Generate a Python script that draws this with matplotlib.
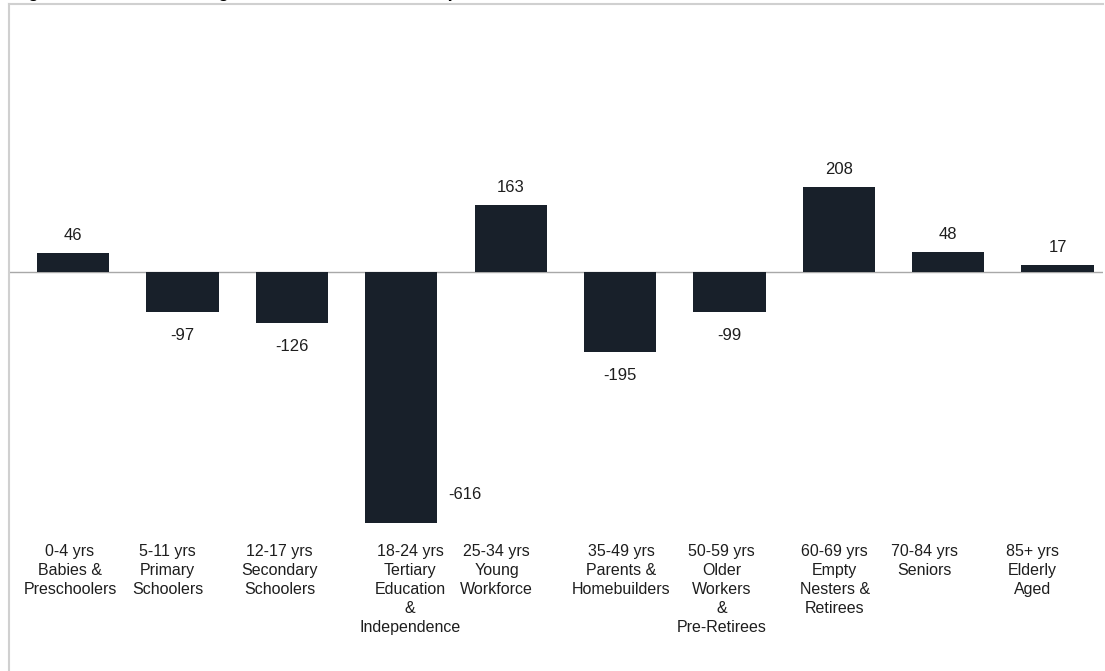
import numpy as np
import matplotlib.pyplot as plt
import matplotlib.transforms as mtransforms
from matplotlib.lines import Line2D

plt.rcParams['font.family'] = ['Liberation Sans', 'DejaVu Sans']

TITLE = "Figure 5: Forecast Change 2016-2026 Service Groups"

age_bands = ["0-4 yrs", "5-11 yrs", "12-17 yrs", "18-24 yrs", "25-34 yrs",
             "35-49 yrs", "50-59 yrs", "60-69 yrs", "70-84 yrs", "85+ yrs"]
group_names = ["Babies &\nPreschoolers", "Primary\nSchoolers", "Secondary\nSchoolers",
               "Tertiary\nEducation\n&\nIndependence", "Young\nWorkforce",
               "Parents &\nHomebuilders", "Older\nWorkers\n&\nPre-Retirees",
               "Empty\nNesters &\nRetirees", "Seniors", "Elderly\nAged"]
change = [46, -97, -126, -616, 163, -195, -99, 208, 48, 17]

BAR_COLOR = "#18202a"
TEXT_COLOR = "#1e1e1e"
W, H = 1105, 671
# category label nudges in pixels (labels sit a bit off-centre in the original)
label_nudge = [-3, -15, -12, 9, -14, 1, -8, -4, -24, -25]

fig = plt.figure(figsize=(W / 100, H / 100), dpi=100)
ax = fig.add_axes([10 / W, (H - 537.2) / H, 1093 / W, 493.7 / H])

x = np.arange(len(change))
bars = ax.bar(x, change, width=0.66, color=BAR_COLOR, zorder=2)
ax.axhline(0, color="#a8a8a8", lw=1.0, zorder=1)

ax.set_xlim(-0.576, 9.415)
ax.set_ylim(-650, 560)
for s in ax.spines.values():
    s.set_visible(False)
ax.set_yticks([])

labels = [f"{a}\n{g}" for a, g in zip(age_bands, group_names)]
ax.set_xticks(x, labels)
ax.tick_params(axis="x", length=0, pad=5, labelsize=11.5, labelcolor=TEXT_COLOR)
for t, dx in zip(ax.get_xticklabels(), label_nudge):
    t.set_linespacing(1.32)
    t.set_transform(t.get_transform() + mtransforms.ScaledTranslation(dx / 100, 0, fig.dpi_scale_trans))

# value labels: outside end, except the deepest bar which sits beside it
lowest = int(np.argmin(change))
for i, (b, v) in enumerate(zip(bars, change)):
    cx = b.get_x() + b.get_width() / 2
    if i == lowest:
        ax.annotate(f"{v}", xy=(b.get_x() + b.get_width(), v), xytext=(11, 29),
                    textcoords="offset pixels", ha="left", va="center",
                    fontsize=12, color=TEXT_COLOR)
    elif v >= 0:
        ax.annotate(f"{v}", xy=(cx, v), xytext=(0, 10), textcoords="offset pixels",
                    ha="center", va="bottom", fontsize=12, color=TEXT_COLOR)
    else:
        ax.annotate(f"{v}", xy=(cx, v), xytext=(0, -16), textcoords="offset pixels",
                    ha="center", va="top", fontsize=12, color=TEXT_COLOR)

# chart frame (top and left edges visible)
fig.add_artist(Line2D([9 / W, 1103 / W], [1 - 4 / H, 1 - 4 / H], color="#d0d0d0", lw=1.5))
fig.add_artist(Line2D([9 / W, 9 / W], [0, 1 - 4 / H], color="#d0d0d0", lw=1.5))

# title sits mostly above the visible area, only its descenders show
fig.text(12 / W, 1 + 3 / H, TITLE, fontsize=13, fontweight="bold",
         ha="left", va="baseline", color="black")

fig.savefig("out.png", dpi=100)
